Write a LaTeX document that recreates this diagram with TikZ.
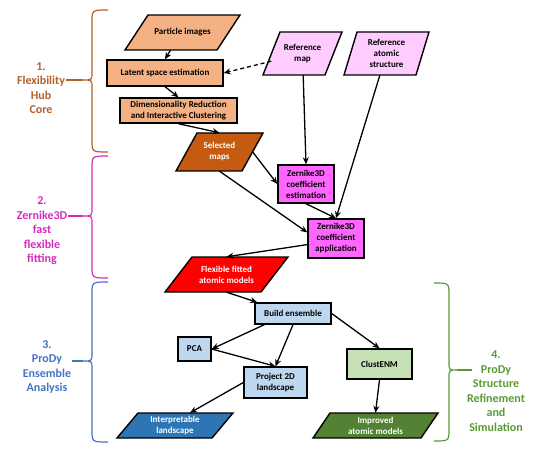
\documentclass[tikz,border=0pt]{standalone}
\usepackage{fontspec}
\setmainfont{Carlito}
\usetikzlibrary{arrows.meta,calc}
\definecolor{peach}{HTML}{F4B183}
\definecolor{rust}{HTML}{C55A11}
\definecolor{lpink}{HTML}{FFCCFF}
\definecolor{magbox}{HTML}{FF66FF}
\definecolor{lblue}{HTML}{BDD7EE}
\definecolor{lgreen}{HTML}{C5E0B4}
\definecolor{dblue}{HTML}{2E75B6}
\definecolor{dgreen}{HTML}{548235}
\definecolor{cbrown}{HTML}{B0602A}
\definecolor{cmag}{HTML}{D62ABD}
\definecolor{cblue}{HTML}{4472C4}
\definecolor{cgreen}{HTML}{5A9A35}
% parallelogram: name, cx, cy, full width, height, slant offset, fill, text colour, text
\newcommand\myparallel[9]{%
  \draw[paraline, fill=#7] ({#2-#4/2},{#3+#5/2}) -- ({#2+#4/2-#6},{#3+#5/2})
     -- ({#2+#4/2},{#3-#5/2}) -- ({#2-#4/2+#6},{#3-#5/2}) -- cycle;
  \node[paratext, text=#8, minimum width={(#4-#6)*1pt}, minimum height={#5*1pt}] (#1) at (#2,#3) {#9};
}
\begin{document}
\begin{tikzpicture}[x=1pt,y=-1pt,
  txt/.style={align=center, font=\bfseries\fontsize{9}{11}\selectfont},
  box/.style={txt, draw=black, line width=1.4pt, rectangle, inner sep=1pt},
  paraline/.style={draw=black, line width=1.4pt},
  paratext/.style={txt, rectangle, inner sep=0pt},
  arr/.style={-{Stealth[length=7pt,width=6pt]}, line width=1.3pt},
  lab/.style={align=center, font=\bfseries\fontsize{12}{14.5}\selectfont, inner sep=1pt},
  brc/.style={line width=1.2pt}
]
\useasboundingbox (0,0) rectangle (550,452);

% ---- nodes ----
\myparallel{particle}{182.5}{32.5}{115}{35}{23}{peach}{black}{Particle images}
\node[box, fill=peach, minimum width=116pt, minimum height=26pt] (latent) at (165,73) {Latent space estimation};
\node[box, fill=peach, minimum width=117pt, minimum height=25pt] (dimred) at (178.5,110.5) {Dimensionality Reduction\\and Interactive Clustering};
\myparallel{sel}{219.5}{152}{87}{38}{21}{rust}{white}{Selected\\maps}
\myparallel{refmap}{302.5}{53.5}{79}{43}{17}{lpink}{black}{Reference\\map}
\myparallel{refatom}{386.5}{53.5}{85}{43}{13}{lpink}{black}{Reference\\atomic\\structure}
\node[box, fill=magbox, minimum width=56pt, minimum height=38pt] (zest) at (306,184) {Zernike3D\\coefficient\\estimation};
\node[box, fill=magbox, minimum width=56pt, minimum height=39pt] (zapp) at (336,238.5) {Zernike3D\\coefficient\\application};
\myparallel{flex}{226.5}{274.5}{123}{35}{27}{red}{white}{Flexible fitted\\atomic models}
\node[box, fill=lblue, minimum width=76pt, minimum height=21pt] (build) at (293,313.5) {Build ensemble};
\node[box, fill=lblue, minimum width=33pt, minimum height=24pt] (pca) at (194.5,349) {PCA};
\node[box, fill=lblue, minimum width=63pt, minimum height=31pt] (proj) at (275.5,382.5) {Project 2D\\landscape};
\node[box, fill=lgreen, minimum width=65pt, minimum height=30pt] (clust) at (379.5,364) {ClustENM};
\myparallel{interp}{175}{425.5}{116}{25}{21}{dblue}{white}{Interpretable\\landscape}
\myparallel{improved}{375.5}{425.5}{125}{25}{17}{dgreen}{white}{Improved\\atomic models}

% ---- connectors ----
\draw[arr] ($(particle.south)+(-12,0)$) -- (latent.north);
\draw[arr, dash pattern=on 4pt off 3pt] (refmap) -- (latent.east);
\draw[arr] (latent.south) -- (dimred.north);
\draw[arr] (dimred.south) -- (sel.north);
\draw[arr] (sel.east) -- (zest.west);
\draw[arr] (refmap) -- (zest.north);
\draw[arr] (sel.south) -- (zapp.168);
\draw[arr] (zest.south) -- (zapp.north);
\draw[arr] (refatom) -- (zapp.north);
\draw[arr] (zapp.192) -- (flex.north);
\draw[arr] (flex.south) -- ($(build.north west)+(3,0)$);
\draw[arr] ($(build.south west)+(10,0)$) -- (pca.east);
\draw[arr] (pca.east) -- (proj.north);
\draw[arr] (build.south) -- (proj.north);
\draw[arr] (proj.west) -- ($(interp.north)+(15,0)$);
\draw[arr] (build.east) -- (clust.north);
\draw[arr] (clust.south) -- (improved.north);

% ---- braces and labels ----
\coordinate (t1) at (83,80);
\draw[brc, cbrown] (108,10) .. controls (92,10) .. (92,22) -- (92,72) .. controls (92,80) .. (t1) .. controls (92,80) .. (92,88) -- (92,140) .. controls (92,152) .. (108,152);
\node[lab, text=cbrown] (l1) at (41,88) {1.\\Flexibility\\Hub\\Core};
\draw[brc, cbrown] (l1.east |- t1) -- (t1);

\coordinate (t2) at (83,216);
\draw[brc, cmag] (108,156) .. controls (92,156) .. (92,168) -- (92,208) .. controls (92,216) .. (t2) .. controls (92,216) .. (92,224) -- (92,266) .. controls (92,278) .. (108,278);
\node[lab, text=cmag] (l2) at (42,231) {2.\\Zernike3D\\fast\\flexible\\fitting};
\draw[brc, cmag] (l2.east |- t2) -- (t2);

\coordinate (t3) at (83,361);
\draw[brc, cblue] (108,282) .. controls (92,282) .. (92,294) -- (92,353) .. controls (92,361) .. (t3) .. controls (92,361) .. (92,369) -- (92,430) .. controls (92,442) .. (108,442);
\node[lab, text=cblue] (l3) at (47,367) {3.\\ProDy\\Ensemble\\Analysis};
\draw[brc, cblue] (l3.east |- t3) -- (t3);

\coordinate (t4) at (457,370);
\draw[brc, cgreen] (434,283) .. controls (449,283) .. (449,295) -- (449,362) .. controls (449,370) .. (t4) .. controls (449,370) .. (449,378) -- (449,429) .. controls (449,441) .. (434,441);
\node[lab, text=cgreen] (l4) at (496,391) {4.\\ProDy\\Structure\\Refinement\\and\\Simulation};
\draw[brc, cgreen] (t4) -- (472,370);
\end{tikzpicture}
\end{document}
